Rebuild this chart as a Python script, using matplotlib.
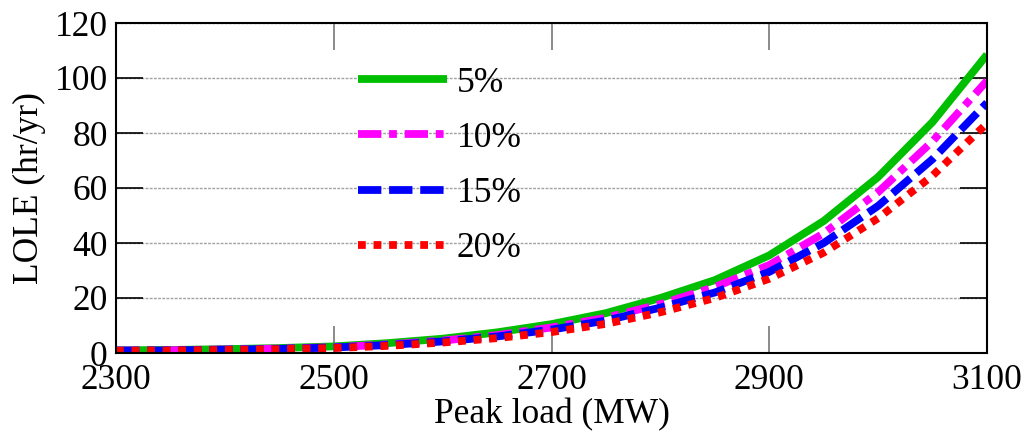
import matplotlib
matplotlib.use("Agg")
import matplotlib.pyplot as plt

plt.rcParams['font.family'] = ['Liberation Serif', 'DejaVu Serif']

# Peak load (MW) and LOLE (hr/yr) for each reserve level
peak_load = [2300, 2350, 2400, 2450, 2500, 2550, 2600, 2650, 2700,
             2750, 2800, 2850, 2900, 2950, 3000, 3050, 3100]
lole_5 = [1.0, 1.1, 1.4, 1.8, 2.4, 3.6, 5.2, 7.5, 10.5,
          14.5, 20.0, 26.5, 35.5, 48.0, 64.0, 84.0, 108.5]
lole_10 = [0.9, 1.0, 1.3, 1.6, 2.1, 3.1, 4.5, 6.5, 9.3,
           12.8, 17.8, 24.0, 32.0, 43.5, 58.5, 77.0, 99.0]
lole_15 = [0.85, 0.95, 1.2, 1.5, 2.0, 2.9, 4.2, 6.0, 8.5,
           11.8, 16.5, 22.0, 29.5, 40.0, 53.5, 70.5, 91.0]
lole_20 = [0.8, 0.9, 1.1, 1.4, 1.8, 2.6, 3.8, 5.4, 7.6,
           10.6, 14.8, 20.0, 27.0, 36.5, 49.0, 64.5, 83.5]
labels = ['5%', '10%', '15%', '20%']

x_ticks = [2300, 2500, 2700, 2900, 3100]
y_ticks = [0, 20, 40, 60, 80, 100, 120]

fs = 25.5
fig = plt.figure(figsize=(10.26, 4.37), dpi=100)
ax = fig.add_axes([116 / 1026, 1 - 353 / 437, 871 / 1026, 330 / 437])

lw = 5.6
styles = [
    dict(color='#00BF00', linestyle='-'),
    dict(color='#FF00FF', linestyle=(0, (3, 1, 1, 1))),
    dict(color='#0000FF', linestyle=(0, (3, 1))),
    dict(color='#FF0000', linestyle=(0, (1, 1))),
]
for series, lab, st in zip([lole_5, lole_10, lole_15, lole_20], labels, styles):
    ax.plot(peak_load, series, lw=lw, label=lab,
            solid_capstyle='butt', dash_capstyle='butt', zorder=3, **st)

ax.set_xlim(2300, 3100)
ax.set_ylim(0, 120)
ax.set_xticks(x_ticks)
ax.set_yticks(y_ticks)
ax.yaxis.grid(True, color='#a0a0a0', linestyle=(0, (2, 1)), linewidth=1.0, zorder=1)

ax.tick_params(axis='both', direction='in', labelsize=fs, length=19.5,
               top=True, right=True, width=1.2)
ax.tick_params(axis='x', color='#777777', pad=8)
ax.tick_params(axis='y', color='black', pad=6)
for sp in ax.spines.values():
    sp.set_linewidth(1.5)
    sp.set_color('black')
    sp.set_zorder(4)

ax.set_xlabel('Peak load (MW)', fontsize=fs, labelpad=1)
ax.set_ylabel('LOLE (hr/yr)', fontsize=fs, labelpad=6)

leg = ax.legend(loc='upper left', bbox_to_anchor=(0.262, 0.911), frameon=False,
                fontsize=fs, handlelength=2.49, handletextpad=0.28,
                labelspacing=0.63, borderaxespad=0)
for line in leg.get_lines():
    line.set_linewidth(lw)

fig.savefig('out.png', dpi=100)
